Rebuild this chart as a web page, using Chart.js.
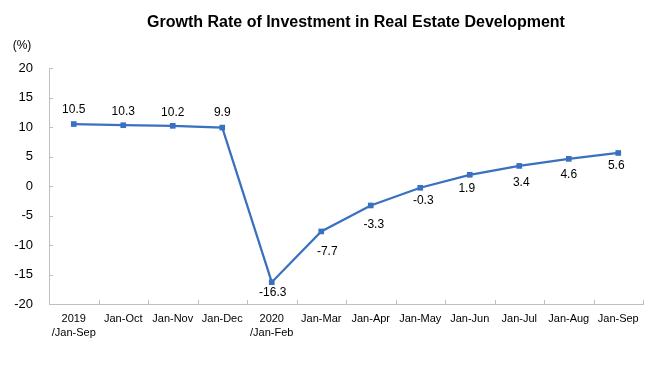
<!DOCTYPE html>
<html>
<head>
<meta charset="utf-8">
<script src="https://cdn.jsdelivr.net/npm/chart.js@4/dist/chart.umd.min.js"></script>
<style>
html,body{margin:0;padding:0;background:#fff;}
#wrap{width:659px;height:392px;position:relative;}
</style>
</head>
<body>
<div id="wrap"><canvas id="c" width="659" height="392"></canvas></div>
<script>
const categories = [['2019','/Jan-Sep'],'Jan-Oct','Jan-Nov','Jan-Dec',['2020','/Jan-Feb'],'Jan-Mar','Jan-Apr','Jan-May','Jan-Jun','Jan-Jul','Jan-Aug','Jan-Sep'];
const growthRate = [10.5,10.3,10.2,9.9,-16.3,-7.7,-3.3,-0.3,1.9,3.4,4.6,5.6];
const yMin = -20, yMax = 20, yStep = 5;
const titleText = 'Growth Rate of Investment in Real Estate Development';
const unitText = '(%)';

// label placement (style only): dx, dy relative to point
const labelOffsets = [[0,-14],[0,-14],[0,-13],[0,-15],[1,11],[6,20],[3,19],[3,13],[-3,14],[2,17],[0,16],[-2,13]];

const AXIS_COLOR = '#BFBFBF';
const LINE_COLOR = '#3A70C0';
const FONT = "'Liberation Sans', Arial, sans-serif";

const decorPlugin = {
  id: 'decor',
  afterDraw(chart) {
    const ctx = chart.ctx;
    const xs = chart.scales.x, ys = chart.scales.y;
    const area = chart.chartArea;
    ctx.save();
    // tick marks (inward)
    ctx.strokeStyle = AXIS_COLOR;
    ctx.lineWidth = 1;
    ctx.beginPath();
    for (let v = yMin; v <= yMax; v += yStep) {
      const y = Math.round(ys.getPixelForValue(v)) + 0.5;
      ctx.moveTo(area.left, y); ctx.lineTo(area.left + 4, y);
    }
    const n = categories.length;
    const w = (area.right - area.left) / n;
    for (let i = 0; i <= n; i++) {
      const x = Math.round(area.left + i * w) + 0.5;
      ctx.moveTo(x, area.bottom); ctx.lineTo(x, area.bottom - 4);
    }
    ctx.stroke();
    // title
    ctx.fillStyle = '#000';
    ctx.textAlign = 'center';
    ctx.textBaseline = 'middle';
    ctx.font = "bold 16px " + FONT;
    ctx.fillText(titleText, 356, 23);
    ctx.font = "12px " + FONT;
    ctx.fillText(unitText, 22, 46);
    // data labels
    const meta = chart.getDatasetMeta(0);
    ctx.font = "12px " + FONT;
    meta.data.forEach((pt, i) => {
      const o = labelOffsets[i];
      ctx.fillText(growthRate[i].toFixed(1), pt.x + o[0], pt.y + o[1]);
    });
    ctx.restore();
  }
};

new Chart(document.getElementById('c'), {
  type: 'line',
  data: {
    labels: categories,
    datasets: [{
      data: growthRate,
      borderColor: LINE_COLOR,
      backgroundColor: LINE_COLOR,
      borderWidth: 2.25,
      pointStyle: 'rect',
      pointRadius: 4,
      pointBorderWidth: 0,
      pointBackgroundColor: LINE_COLOR,
      tension: 0,
      fill: false
    }]
  },
  options: {
    responsive: false,
    animation: false,
    layout: { padding: { left: 0, right: 16, top: 68, bottom: 0 } },
    plugins: { legend: { display: false }, title: { display: false }, tooltip: { enabled: false } },
    scales: {
      x: {
        type: 'category',
        offset: true,
        grid: { display: true, drawOnChartArea: false, drawTicks: false, offset: true },
        border: { display: true, color: AXIS_COLOR, width: 1 },
        ticks: { color: '#000', font: { family: FONT, size: 11, lineHeight: 1.27 }, padding: 8, maxRotation: 0, autoSkip: false },
        afterFit(s) { s.height = 88; }
      },
      y: {
        min: yMin, max: yMax,
        grid: { display: true, drawOnChartArea: false, drawTicks: false },
        border: { display: true, color: AXIS_COLOR, width: 1 },
        ticks: { stepSize: yStep, color: '#000', font: { family: FONT, size: 13 }, padding: 16 },
        afterFit(s) { s.width = 49; }
      }
    }
  },
  plugins: [decorPlugin]
});
</script>
</body>
</html>
